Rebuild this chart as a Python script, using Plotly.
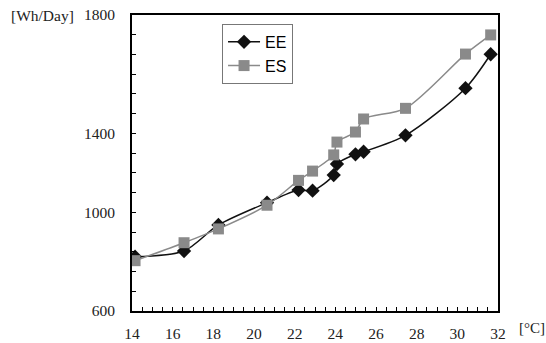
import plotly.graph_objects as go

# Outdoor temperature [°C]
temp_ee = [14.15, 16.56, 18.25, 20.64, 22.19, 22.88, 23.92, 24.08, 24.99, 25.39, 27.45, 30.40, 31.64]
temp_es = [14.15, 16.56, 18.25, 20.64, 22.19, 22.88, 23.92, 24.08, 24.99, 25.39, 27.45, 30.40, 31.64]

# Daily energy [Wh/Day]
energy_ee = [775, 804, 936, 1049, 1113, 1110, 1189, 1245, 1294, 1307, 1390, 1629, 1801]
energy_es = [755, 846, 916, 1036, 1162, 1209, 1291, 1356, 1407, 1473, 1527, 1802, 1899]

# Axis ticks
x_ticks = [14, 16, 18, 20, 22, 24, 26, 28, 30, 32]
y_tick_vals = [500, 1000, 1400, 2000]
y_tick_text = ["600", "1000", "1400", "1800"]

serif = "Liberation Serif, Times New Roman, serif"
sans = "Liberation Sans, Arial, sans-serif"

fig = go.Figure()
fig.add_trace(go.Scatter(
    x=temp_ee, y=energy_ee, name="EE", mode="lines+markers",
    line=dict(color="#111111", width=1.5, shape="spline", smoothing=0.8),
    marker=dict(symbol="diamond", size=11, color="#111111"),
))
fig.add_trace(go.Scatter(
    x=temp_es, y=energy_es, name="ES", mode="lines+markers",
    line=dict(color="#8a8a8a", width=1.5, shape="spline", smoothing=0.8),
    marker=dict(symbol="square", size=11, color="#8a8a8a"),
))

axis_common = dict(
    showline=True, linewidth=2, linecolor="black", mirror=True,
    showgrid=False, zeroline=False, automargin=False,
    ticks="inside", ticklen=4, tickwidth=1, tickcolor="black",
    tickfont=dict(family=serif, size=15.5, color="#222222"),
)

fig.update_xaxes(
    range=[14, 32], tickvals=x_ticks, ticklabelstandoff=7,
    minor=dict(dtick=0.5, tick0=14, ticks="inside", ticklen=4, tickcolor="black"),
    **axis_common,
)
fig.update_yaxes(
    range=[500, 2000], tickvals=y_tick_vals, ticktext=y_tick_text,
    ticklabelstandoff=12,
    minor=dict(dtick=100, tick0=500, ticks="inside", ticklen=4, tickcolor="black"),
    **axis_common,
)

fig.add_annotation(
    text="[Wh/Day]", xref="paper", yref="paper", x=-0.336, y=1.0,
    xanchor="left", yanchor="middle", showarrow=False,
    font=dict(family=serif, size=15.5, color="#222222"),
)
fig.add_annotation(
    text="[°C]", xref="paper", yref="paper", x=1.052, y=-0.058,
    xanchor="left", yanchor="middle", showarrow=False,
    font=dict(family=serif, size=15, color="#222222"),
)

fig.update_layout(
    width=546, height=343,
    margin=dict(l=132, r=48, t=15, b=32),
    plot_bgcolor="white", paper_bgcolor="white",
    legend=dict(
        x=0.246, y=0.97, xanchor="left", yanchor="top",
        bordercolor="#777777", borderwidth=1, bgcolor="white",
        font=dict(family=sans, size=16, color="black"),
        tracegroupgap=0, itemwidth=32,
    ),
)

fig.write_html("out.html")
